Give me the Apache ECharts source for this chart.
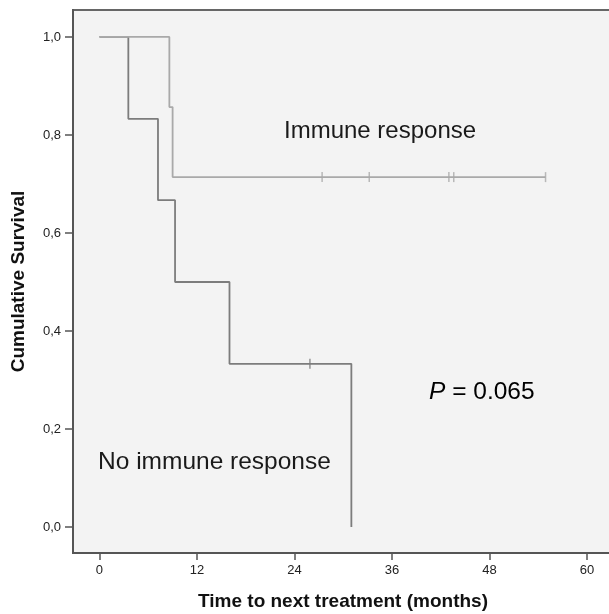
<!DOCTYPE html>
<html>
<head>
<meta charset="utf-8">
<script src="https://cdn.jsdelivr.net/npm/echarts@6/dist/echarts.min.js"></script>
<style>html,body{margin:0;padding:0;background:#fff;}#c{width:609px;height:614px;}</style>
</head>
<body>
<div id="c"></div>
<script>
// Kaplan-Meier data (months, cumulative survival)
const immuneTimes = [0, 8.6, 9.0, 54.9];
const immuneSurv = [1.0, 0.857, 0.714, 0.714];
const immuneCensorTimes = [27.4, 33.2, 43.0, 43.6, 54.9];
const immuneCensorSurv = [0.714, 0.714, 0.714, 0.714, 0.714];

const noImmuneTimes = [0, 3.55, 7.2, 9.3, 16.0, 31.0];
const noImmuneSurv = [1.0, 0.833, 0.667, 0.5, 0.333, 0.0];
const noImmuneCensorTimes = [25.9];
const noImmuneCensorSurv = [0.333];

const xTickValues = [0, 12, 24, 36, 48, 60];
const yTickValues = [0, 0.2, 0.4, 0.6, 0.8, 1.0];

const zip = (a, b) => a.map((v, i) => [v, b[i]]);

const chart = echarts.init(document.getElementById('c'), null, {renderer: 'canvas'});
const axisColor = '#555';
const font = 'Liberation Sans, Arial, Helvetica, sans-serif';

chart.setOption({
  animation: false,
  grid: {
    left: 73, top: 10, width: 540, height: 543,
    outerBoundsMode: 'none',
    show: true, backgroundColor: '#f3f3f3', borderColor: '#666', borderWidth: 2,
    containLabel: false
  },
  xAxis: {
    type: 'value', min: -3.26, max: 63.2,
    name: 'Time to next treatment (months)', nameLocation: 'middle', nameGap: 39,
    nameTextStyle: {fontFamily: font, fontWeight: 'bold', fontSize: 19, color: '#111'},
    axisLine: {show: true, onZero: false, lineStyle: {color: axisColor, width: 2}},
    axisTick: {show: true, customValues: xTickValues, length: 7, lineStyle: {color: axisColor, width: 1.5}},
    axisLabel: {customValues: xTickValues, margin: 11, fontFamily: font, fontSize: 13, color: '#222'},
    splitLine: {show: false}
  },
  yAxis: {
    type: 'value', min: -0.053, max: 1.055,
    name: 'Cumulative Survival', nameLocation: 'middle', nameGap: 45,
    nameTextStyle: {fontFamily: font, fontWeight: 'bold', fontSize: 19, color: '#111'},
    axisLine: {show: true, onZero: false, lineStyle: {color: axisColor, width: 2}},
    axisTick: {show: true, customValues: yTickValues, length: 8, lineStyle: {color: axisColor, width: 1.5}},
    axisLabel: {customValues: yTickValues, margin: 12, fontFamily: font, fontSize: 13, color: '#222',
      formatter: v => v.toFixed(1).replace('.', ',')},
    splitLine: {show: false}
  },
  series: [
    {
      name: 'No immune response', type: 'line', step: 'end', symbol: 'none',
      data: zip(noImmuneTimes, noImmuneSurv),
      lineStyle: {color: '#7c7c7c', width: 1.8}, z: 2
    },
    {
      name: 'Immune response', type: 'line', step: 'end', symbol: 'none',
      data: zip(immuneTimes, immuneSurv),
      lineStyle: {color: '#a9a9a9', width: 1.8}, z: 3
    },
    {
      type: 'scatter', symbol: 'rect', symbolSize: [1.5, 10],
      data: zip(noImmuneCensorTimes, noImmuneCensorSurv),
      itemStyle: {color: '#7c7c7c'}, z: 4
    },
    {
      type: 'scatter', symbol: 'rect', symbolSize: [1.5, 10],
      data: zip(immuneCensorTimes, immuneCensorSurv),
      itemStyle: {color: '#a9a9a9'}, z: 4
    }
  ],
  graphic: [
    {type: 'text', x: 284, y: 131, z: 10, style: {text: 'Immune response', font: '24px ' + font, fill: '#1a1a1a', textVerticalAlign: 'middle'}},
    {type: 'text', x: 98, y: 462, z: 10, style: {text: 'No immune response', font: '24.5px ' + font, fill: '#1a1a1a', textVerticalAlign: 'middle'}},
    {type: 'text', x: 429, y: 392, z: 10, style: {
      text: '{i|P}{n| = 0.065}', textVerticalAlign: 'middle',
      rich: {
        i: {fontFamily: font, fontSize: 24.5, fontStyle: 'italic', color: '#1a1a1a'},
        n: {fontFamily: font, fontSize: 24.5, color: '#1a1a1a'}
      }
    }}
  ]
});
</script>
</body>
</html>
